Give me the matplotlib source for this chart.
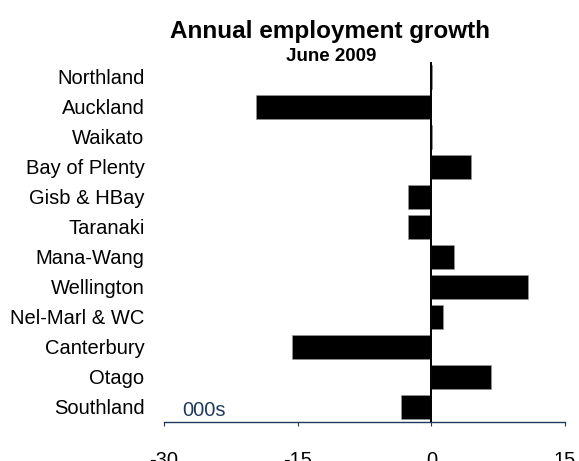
import matplotlib
matplotlib.use("Agg")
import matplotlib.pyplot as plt

regions = ["Northland", "Auckland", "Waikato", "Bay of Plenty", "Gisb & HBay",
           "Taranaki", "Mana-Wang", "Wellington", "Nel-Marl & WC", "Canterbury",
           "Otago", "Southland"]
growth = [0.1, -19.7, 0.1, 4.4, -2.6, -2.6, 2.5, 10.8, 1.3, -15.6, 6.7, -3.4]
x_ticks = [-30, -15, 0, 15]

plt.rcParams["font.family"] = ["Liberation Sans", "DejaVu Sans"]
navy = "#1F3A5F"

fig = plt.figure(figsize=(5.79, 4.61), dpi=100)
ax = fig.add_axes([0.2832, 0.0846, 0.6926, 0.7816])

pos = list(range(len(regions)))
ax.barh(pos, growth, height=0.79, color="black", edgecolor="#9a9a9a", linewidth=0.4)
ax.axvline(0, color="black", lw=1.4, zorder=3)

ax.set_xlim(-30, 15)
ax.set_ylim(len(regions) - 0.5, -0.5)
ax.set_xticks(x_ticks)
ax.set_xticklabels([str(t) for t in x_ticks])
ax.set_yticks(pos)
ax.set_yticklabels(regions)

for s in ["top", "right", "left"]:
    ax.spines[s].set_visible(False)
ax.spines["bottom"].set_color(navy)
ax.spines["bottom"].set_linewidth(1.0)

ax.tick_params(axis="x", direction="out", length=3, width=0.8, color=navy,
               labelsize=14.5, pad=18, labelcolor="black")
ax.tick_params(axis="y", length=0, labelsize=14.5, pad=14)

ax.text(-28, 11.13, "000s", color=navy, fontsize=14.5, va="center", ha="left")

fig.text(330.5 / 579, 1 - 38.3 / 461, "Annual employment growth", ha="center",
         va="baseline", fontsize=17.5, fontweight="bold")
fig.text(331.5 / 579, 1 - 61.3 / 461, "June 2009", ha="center",
         va="baseline", fontsize=13.5, fontweight="bold")

fig.savefig("out.png", dpi=100)
